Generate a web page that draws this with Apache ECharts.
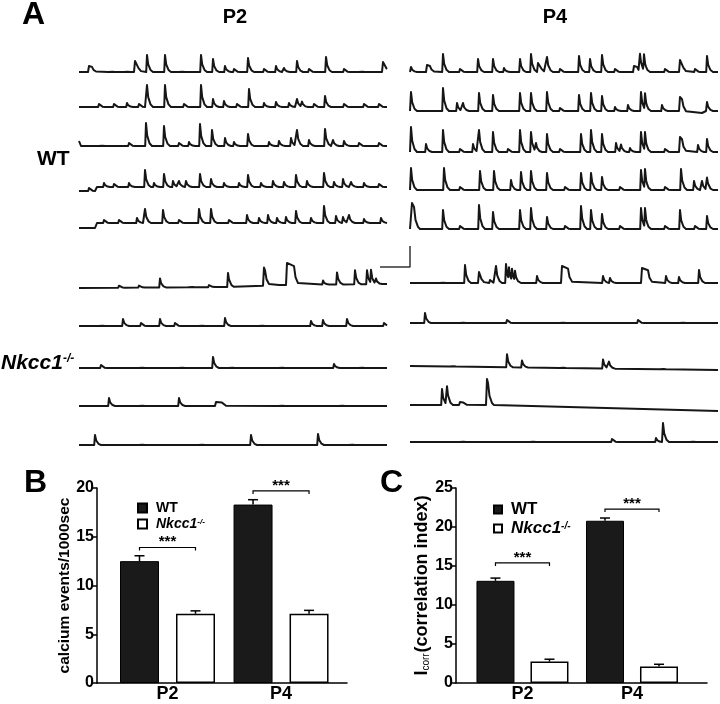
<!DOCTYPE html>
<html>
<head>
<meta charset="utf-8">
<script src="https://cdn.jsdelivr.net/npm/echarts@6/dist/echarts.min.js"></script>
<style>
html, body { margin: 0; padding: 0; background: #fff; }
#chart { width: 720px; height: 704px; }
</style>
</head>
<body>
<div id="chart"></div>
<script>
// ---- panel A: calcium traces (frame index 0..TRACE_LEN)
// ev: [frame, amplitude] or [frame, amplitude, plateau frames]; base: baseline knots [frame, level]
const TRACE_LEN = 308

const wtP2 = [
  { ev: [[10,6,3],[30,2],[45,2],[56,11,2],[68,17],[86,17],[100,2],[122,17],[134,13],[146,6],[155,3],[169,14],[185,3],[197,6],[205,4],[218,11],[230,3],[247,15],[265,3],[280,2],[304,10,2]] },
  { ev: [[20,3],[35,3],[48,4],[60,3],[68,22],[86,22],[105,3],[122,22],[134,8],[145,6],[158,3],[170,18],[185,4],[197,5],[210,4],[218,8],[223,5],[235,3],[246,11],[265,3],[285,3],[300,3]] },
  { base: [[0,5],[2,0],[308,0]], ev: [[20,2],[50,3],[67,23],[85,20],[100,3],[110,4],[121,22],[133,16],[146,8],[155,4],[169,12],[190,4],[200,5],[212,8],[218,16],[230,6],[246,17],[254,6],[265,5],[280,3],[300,3]] },
  { base: [[0,-4],[16,-4],[18,0],[308,0]], ev: [[10,3],[25,4],[35,3],[50,4],[66,17],[75,4],[85,13],[94,6],[100,6],[107,6],[121,13],[132,8],[145,4],[160,4],[169,12],[182,4],[194,6],[205,5],[217,12],[228,6],[245,14],[255,5],[264,8],[272,5],[285,4],[300,3]] },
  { base: [[0,-5],[16,-5],[18,0],[308,0]], ev: [[25,3],[40,3],[58,5],[66,14],[84,13],[100,3],[120,14],[132,14],[150,3],[168,8],[180,5],[189,8],[198,5],[207,6],[217,12],[232,5],[245,17],[257,7],[264,6],[270,8],[285,4],[302,5]] }
]

const wtP4 = [
  { ev: [[1,5],[17,7,3],[33,18],[50,3],[68,13],[83,13],[94,4],[110,13],[121,18],[128,9,2],[137,15],[150,3],[169,16],[180,13],[192,17],[205,3],[224,6,3],[230,17],[234,16],[255,3],[270,12,2],[285,3],[297,16]] },
  { base: [[0,0],[272,0],[278,-2],[292,-2],[296,0],[308,0]], ev: [[1,19],[33,23],[47,8],[53,8],[69,18],[83,16],[110,18],[121,18],[137,19],[150,3],[169,16],[181,18],[192,15],[205,4],[218,6],[231,19],[235,16],[252,6],[270,14,2],[297,9]] },
  { ev: [[1,25],[16,8],[33,22],[50,3],[63,8],[69,22],[83,20],[98,3],[110,22],[121,20],[126,8],[137,18],[150,3],[171,18],[181,22],[192,18],[206,9],[211,7],[220,4],[231,20],[235,18],[255,3],[270,15,2],[288,7],[297,13]] },
  { ev: [[1,22],[34,22],[50,3],[70,19],[84,19],[101,10],[111,18],[121,19],[137,17],[155,3],[171,17],[181,17],[192,13],[210,3],[231,20],[235,19],[255,3],[271,21],[284,9],[292,9],[297,12]] },
  { ev: [[2,26,2],[33,19],[50,3],[69,24],[83,17],[110,19],[121,21],[137,12],[155,3],[171,23],[181,19],[192,15],[210,3],[231,21],[235,19],[255,3],[270,19],[285,3],[297,13]] }
]

const koP2 = [
  { base: [[0,0],[150,1],[200,3],[308,4]], ev: [[40,2],[60,2],[81,9],[110,2],[130,2],[149,14],[185,18,1],[208,22,7],[244,4],[258,12],[276,14],[288,14],[292,13],[297,5]] },
  { ev: [[20,2],[44,7],[62,3],[81,7],[96,3],[120,2],[146,8],[180,2],[232,5],[244,6],[268,7],[305,3]] },
  { ev: [[22,3],[60,2],[100,2],[134,11],[150,2],[200,2],[255,4],[280,2]] },
  { ev: [[30,8],[60,2],[100,8],[137,4,6],[200,2],[260,2]] },
  { ev: [[16,10],[60,2],[120,2],[172,10],[239,11],[270,2]] }
]

const koP4 = [
  { ev: [[30,2],[55,18],[69,11,1],[80,3],[86,17],[96,19],[99,12],[102,12],[105,10],[127,7],[152,17,6],[193,7],[200,5],[232,15,6],[256,7],[269,6],[289,13]] },
  { ev: [[15,10],[50,2],[97,3],[150,2],[228,3],[270,2]] },
  { base: [[0,0],[308,-4]], ev: [[40,2],[97,13],[112,7],[150,2],[193,9],[199,7],[250,2]] },
  { base: [[0,0],[80,0],[308,-6]], ev: [[32,16],[37,18],[50,3,3],[77,26,1]] },
  { ev: [[50,2],[120,2],[202,3],[246,4],[253,19],[280,2]] }
]

const scaleBar = { frames: 30, amp: 21 }

// ---- panels B and C
const groups = ['P2', 'P4']
const groupPos = [1, 2]
const eventsWT = [12.5, 18.3]
const eventsWTErr = [0.55, 0.5]
const eventsKO = [7.1, 7.1]
const eventsKOErr = [0.3, 0.35]
const corrWT = [13.1, 20.8]
const corrWTErr = [0.35, 0.35]
const corrKO = [2.75, 2.1]
const corrKOErr = [0.3, 0.3]
const sigEvents = [13.9, 19.7]
const sigCorr = [15.4, 22.3]

// layout
const FONT = '"Liberation Sans", Arial, sans-serif'
const leftX = 79, rightX = 410
const leftBase = [72, 107, 146, 187, 223, 288, 326, 368, 406, 445]
const rightBase = [72, 111, 152, 190, 229, 283, 323, 366, 405, 442]

function kernelPts(w) {
  return w
    ? [[-1, 0], [0, 1], [w, 0.85], [w + 1.5, 0.35], [w + 4, 0.08], [w + 6, 0]]
    : [[-0.8, 0], [0, 1], [1.2, 0.45], [3.5, 0.12], [6, 0]]
}

function linAt(pts, t) {
  if (t <= pts[0][0]) return pts[0][1]
  for (let i = 1; i < pts.length; i++) {
    if (t <= pts[i][0]) {
      const a = pts[i - 1], b = pts[i]
      return a[1] + (b[1] - a[1]) * (t - a[0]) / (b[0] - a[0])
    }
  }
  return pts[pts.length - 1][1]
}

function buildTrace(tr) {
  const base = tr.base || [[0, 0], [TRACE_LEN, 0]]
  const ts = new Set([0, TRACE_LEN])
  base.forEach(k => ts.add(k[0]))
  tr.ev.forEach(e => kernelPts(e[2]).forEach(p => {
    const t = +(e[0] + p[0]).toFixed(2)
    if (t > 0 && t < TRACE_LEN) ts.add(t)
  }))
  return [...ts].sort((a, b) => a - b).map(t => {
    let v = linAt(base, t)
    tr.ev.forEach(e => {
      const k = kernelPts(e[2])
      const dt = t - e[0]
      if (dt > k[0][0] && dt < k[k.length - 1][0]) v += e[1] * linAt(k, dt)
    })
    return [t, +v.toFixed(2)]
  })
}

const grid = [], xAxis = [], yAxis = [], series = []

function addTrace(tr, left, baseY) {
  const i = grid.length
  grid.push({ left: left, top: baseY - 30, width: TRACE_LEN, height: 36 })
  xAxis.push({ gridIndex: i, type: 'value', min: 0, max: TRACE_LEN, show: false })
  yAxis.push({ gridIndex: i, type: 'value', min: -6, max: 30, show: false })
  series.push({
    type: 'line', xAxisIndex: i, yAxisIndex: i, data: buildTrace(tr),
    showSymbol: false, clip: false, silent: true,
    lineStyle: { color: '#161616', width: 2, join: 'round' }
  })
}

wtP2.concat(koP2).forEach((tr, k) => addTrace(tr, leftX, leftBase[k]))
wtP4.concat(koP4).forEach((tr, k) => addTrace(tr, rightX, rightBase[k]))

// scale bar
{
  const i = grid.length
  grid.push({ left: 380, top: 246, width: scaleBar.frames, height: scaleBar.amp })
  xAxis.push({ gridIndex: i, type: 'value', min: 0, max: scaleBar.frames, show: false })
  yAxis.push({ gridIndex: i, type: 'value', min: 0, max: scaleBar.amp, show: false })
  series.push({
    type: 'line', xAxisIndex: i, yAxisIndex: i, showSymbol: false, clip: false, silent: true,
    data: [[0, 0], [scaleBar.frames, 0], [scaleBar.frames, scaleBar.amp]],
    lineStyle: { color: '#333', width: 1.5 }
  })
}

function errRender(shift) {
  return function (params, api) {
    const x = api.value(0), v = api.value(1), e = api.value(2)
    const p0 = api.coord([x, v]), p1 = api.coord([x, v + e])
    const cx = p0[0] + shift
    const st = { stroke: '#000', lineWidth: 1.5 }
    return {
      type: 'group', children: [
        { type: 'line', shape: { x1: cx, y1: p0[1], x2: cx, y2: p1[1] }, style: st },
        { type: 'line', shape: { x1: cx - 5, y1: p1[1], x2: cx + 5, y2: p1[1] }, style: st }
      ]
    }
  }
}

function bracketRender(half) {
  return function (params, api) {
    const p = api.coord([api.value(0), api.value(1)])
    return {
      type: 'group', children: [
        {
          type: 'polyline',
          shape: { points: [[p[0] - half, p[1] + 3], [p[0] - half, p[1]], [p[0] + half, p[1]], [p[0] + half, p[1] + 3]] },
          style: { stroke: '#000', lineWidth: 1.2, fill: null }
        },
        {
          type: 'text', x: p[0], y: p[1] + 2,
          style: { text: '***', align: 'center', verticalAlign: 'bottom', fontSize: 15, fontWeight: 'bold', fontFamily: FONT, fill: '#000' }
        }
      ]
    }
  }
}

function addBarPanel(opt) {
  const i = grid.length
  grid.push({ left: opt.left, top: 488, width: opt.width, height: 195 })
  xAxis.push({
    gridIndex: i, type: 'value', min: opt.xmin, max: opt.xmax,
    axisLine: { lineStyle: { color: '#000', width: 1.5 } },
    axisTick: { show: false }, splitLine: { show: false },
    axisLabel: {
      customValues: groupPos, margin: 2,
      formatter: v => groups[groupPos.indexOf(v)] || '',
      color: '#000', fontSize: 18, fontWeight: 'bold', fontFamily: FONT
    }
  })
  yAxis.push({
    gridIndex: i, type: 'value', min: 0, max: opt.ymax, interval: 5,
    name: opt.name, nameLocation: 'middle', nameGap: opt.nameGap, nameRotate: 90,
    nameTextStyle: opt.nameStyle,
    axisLine: { show: true, lineStyle: { color: '#000', width: 1.5 } },
    axisTick: { show: true, length: 4, lineStyle: { color: '#000', width: 1.5 } },
    splitLine: { show: false },
    axisLabel: { margin: 3, color: '#000', fontSize: 16, fontWeight: 'bold', fontFamily: FONT }
  })
  const pair = (vals) => vals.map((v, k) => [groupPos[k], v])
  const withErr = (vals, errs) => vals.map((v, k) => [groupPos[k], v, errs[k]])
  const shift = (opt.barWidth + opt.gapPx) / 2
  const gap = (opt.gapPx / opt.barWidth * 100).toFixed(1) + '%'
  series.push(
    {
      name: 'WT', type: 'bar', xAxisIndex: i, yAxisIndex: i, data: pair(opt.wt),
      barWidth: opt.barWidth, barGap: gap,
      itemStyle: { color: '#1a1a1a', borderColor: '#000', borderWidth: 1 }
    },
    {
      name: 'Nkcc1-/-', type: 'bar', xAxisIndex: i, yAxisIndex: i, data: pair(opt.ko),
      barWidth: opt.barWidth, barGap: gap,
      itemStyle: { color: '#fff', borderColor: '#000', borderWidth: 1.5 }
    },
    {
      type: 'custom', xAxisIndex: i, yAxisIndex: i, z: 5, silent: true,
      data: withErr(opt.wt, opt.wtErr), renderItem: errRender(-shift)
    },
    {
      type: 'custom', xAxisIndex: i, yAxisIndex: i, z: 5, silent: true,
      data: withErr(opt.ko, opt.koErr), renderItem: errRender(shift)
    },
    {
      type: 'custom', xAxisIndex: i, yAxisIndex: i, z: 5, silent: true,
      data: pair(opt.sig), renderItem: bracketRender(shift)
    }
  )
}

addBarPanel({
  left: 97, width: 250, xmin: 0.379, xmax: 2.581, ymax: 20,
  barWidth: 39, gapPx: 17,
  wt: eventsWT, wtErr: eventsWTErr, ko: eventsKO, koErr: eventsKOErr, sig: sigEvents,
  name: 'calcium events/1000sec', nameGap: 22,
  nameStyle: { color: '#000', fontSize: 15.5, fontWeight: 'bold', fontFamily: FONT }
})

addBarPanel({
  left: 456, width: 251, xmin: 0.393, xmax: 2.685, ymax: 25,
  barWidth: 38, gapPx: 16,
  wt: corrWT, wtErr: corrWTErr, ko: corrKO, koErr: corrKOErr, sig: sigCorr,
  name: '{n|I}{s|corr}{n|(correlation index)}', nameGap: 19,
  nameStyle: {
    color: '#000', fontFamily: FONT,
    rich: {
      n: { fontSize: 18, fontWeight: 'bold', fontFamily: FONT, color: '#000' },
      s: { fontSize: 10, fontFamily: FONT, color: '#000', verticalAlign: 'bottom', padding: [6, 1, 0, 0] }
    }
  }
})

function legendOf(left, top, size, box, lh) {
  return {
    left: left, top: top, orient: 'vertical', icon: 'rect',
    itemWidth: box, itemHeight: box, itemGap: 2, selectedMode: false,
    data: ['WT', 'Nkcc1-/-'],
    formatter: n => n === 'WT' ? '{b|WT}' : '{i|Nkcc1}{s|-/-}',
    textStyle: {
      rich: {
        b: { fontSize: size, fontWeight: 'bold', fontFamily: FONT, color: '#000', lineHeight: lh, padding: [0, 0, 0, 4] },
        i: { fontSize: size, fontWeight: 'bold', fontStyle: 'italic', fontFamily: FONT, color: '#000', lineHeight: lh, padding: [0, 0, 0, 4] },
        s: { fontSize: Math.round(size * 0.6), fontWeight: 'bold', fontStyle: 'italic', fontFamily: FONT, color: '#000', verticalAlign: 'top', lineHeight: lh }
      }
    }
  }
}

const txt = (text, x, y, size, extra) => ({
  type: 'text', x: x, y: y, silent: true,
  style: Object.assign({ text: text, fontSize: size, fontWeight: 'bold', fontFamily: FONT, fill: '#000', verticalAlign: 'middle' }, extra || {})
})

const option = {
  animation: false,
  backgroundColor: '#fff',
  grid: grid, xAxis: xAxis, yAxis: yAxis, series: series,
  legend: [legendOf(132, 496, 14, 9, 12), legendOf(488, 496, 17, 8, 14)],
  graphic: [
    txt('A', 22, 15, 32),
    txt('B', 24, 483, 32),
    txt('C', 380, 483, 32),
    txt('P2', 235, 17, 20, { align: 'center' }),
    txt('P4', 555, 17, 20, { align: 'center' }),
    txt('WT', 37, 159, 21),
    txt('{i|Nkcc1}{s|-/-}', 1, 363, 21, {
      rich: {
        i: { fontSize: 21, fontWeight: 'bold', fontStyle: 'italic', fontFamily: FONT, fill: '#000' },
        s: { fontSize: 12, fontWeight: 'bold', fontStyle: 'italic', fontFamily: FONT, fill: '#000', verticalAlign: 'top' }
      }
    })
  ]
}

const chart = echarts.init(document.getElementById('chart'))
chart.setOption(option)
</script>
</body>
</html>
